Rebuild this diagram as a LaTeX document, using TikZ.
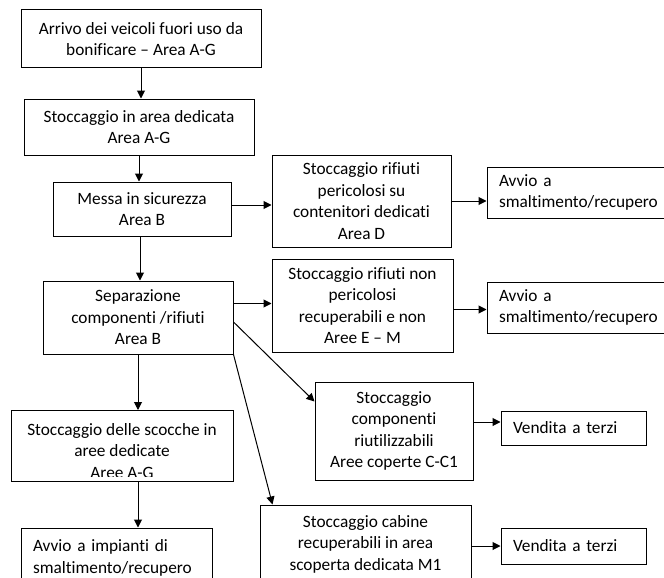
\documentclass[tikz,border=0pt]{standalone}
\usepackage{fontspec}
\setmainfont{Carlito}[Ligatures={NoCommon,NoContextual},RawFeature={-liga;-clig;-calt;-dlig}]
\usetikzlibrary{arrows.meta}
\tikzset{
  fnt/.style={font=\fontsize{17.3}{21.5}\selectfont},
  box/.style={draw, line width=1pt, inner sep=0pt, align=center, fnt},
  lbox/.style={draw, line width=1pt, inner ysep=0pt, inner xsep=12pt, align=left, fnt},
  txt/.style={inner sep=0pt, align=center, fnt},
  arr/.style={line width=1pt, -{Triangle[length=8pt,width=8pt]}}
}
\begin{document}
\begin{tikzpicture}[x=1pt,y=-1pt]
\useasboundingbox (0,0) rectangle (664,578);
\clip (0,0) rectangle (664,578);
\fill[white] (0,0) rectangle (664,578);
% left column
\node[box, minimum width=240, minimum height=58] (b1) at (141,39) {Arrivo dei veicoli fuori uso da\\bonificare -- Area A-G};
\node[box, minimum width=230, minimum height=56] (b2) at (139,127) {Stoccaggio in area dedicata\\Area A-G};
\node[box, minimum width=178, minimum height=54] (b3) at (142,209) {Messa in sicurezza\\Area B};
\node[box, minimum width=190, minimum height=73] (b4) at (138,317.5) {Separazione\\componenti /rifiuti\\Area B};
\node[box, minimum width=222, minimum height=71] (b5) at (122,446) {};
\begin{scope}
  \clip ([yshift=-1pt]b5.north west) rectangle ([yshift=5.5pt]b5.south east);
  \node[txt] (b5t) at (122,451) {Stoccaggio delle scocche in\\aree dedicate\\Aree A-G};
\end{scope}
\node[lbox, text width=167, minimum height=60] (b6) at (116.5,558) {Avvio a impianti di\\smaltimento/recupero};
% middle column
\node[box, minimum width=179, minimum height=92] (bD) at (361.5,201) {Stoccaggio rifiuti\\pericolosi su\\contenitori dedicati\\Area D};
\node[box, minimum width=181, minimum height=93] (bEM) at (362.5,305.5) {Stoccaggio rifiuti non\\pericolosi\\recuperabili e non\\Aree E -- M};
\node[box, minimum width=158, minimum height=98] (bC) at (394,431) {Stoccaggio\\componenti\\riutilizzabili\\Aree coperte C-C1};
\node[box, minimum width=211, minimum height=78] (bCab) at (365.5,544) {Stoccaggio cabine\\recuperabili in area\\scoperta dedicata M1};
% right column
\node[lbox, text width=168, minimum height=51] (a1) at (583,192.5) {Avvio a\\smaltimento/recupero};
\node[lbox, text width=168, minimum height=51] (a2) at (583,307.5) {Avvio a\\smaltimento/recupero};
\node[lbox, text width=121, minimum height=34] (v1) at (573.5,428) {Vendita a terzi};
\node[lbox, text width=121, minimum height=36] (v2) at (573.5,546) {Vendita a terzi};
% connectors
\draw[arr] (b1.south) -- (b1.south |- b2.north);
\draw[arr] (b2.south) -- (b2.south |- b3.north);
\draw[arr] ([xshift=-2pt]b3.south) -- ([xshift=-2pt]b3.south |- b4.north);
\draw[arr] (b4.south) -- (b4.south |- b5.north);
\draw[arr] ([xshift=16pt]b5.south) -- ([xshift=16pt]b5.south |- b6.north);
\draw[arr] ([yshift=4pt]b3.east) -- ([yshift=4pt]b3.east -| bD.west);
\draw[arr] ([yshift=2pt]bEM.west -| b4.east) -- ([yshift=2pt]bEM.west);
\draw[arr] (bD.east) -- (bD.east -| a1.west);
\draw[arr] ([yshift=-4pt]bEM.east) -- ([yshift=-4pt]bEM.east -| a2.west);
\draw[arr] ([yshift=6pt]v1.west -| bC.east) -- ([yshift=6pt]v1.west);
\draw[arr] (v2.west -| bCab.east) -- (v2.west);
\draw[arr] ([yshift=-4.5pt]b4.east) -- ([yshift=-20pt]bC.north west);
\draw[arr] (b4.south east) -- ([xshift=13pt]bCab.north west);
\end{tikzpicture}
\end{document}
